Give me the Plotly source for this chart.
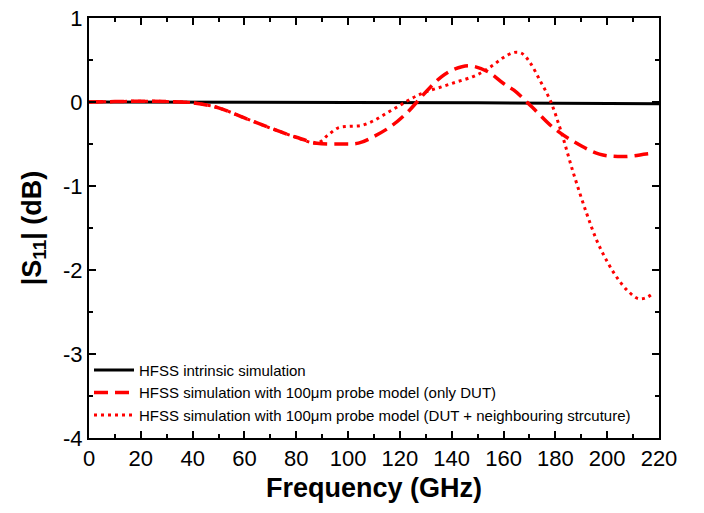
import plotly.graph_objects as go

# 데이터
freq_intrinsic = [0, 50, 100, 150, 200, 220]
s11_intrinsic = [0, 0, -0.005, -0.01, -0.015, -0.02]

freq_dut = [0, 10, 20, 30, 40, 50, 60, 70, 80, 88, 97, 104, 110, 117, 123, 130,
            136, 141, 147, 154, 160, 164, 171, 179, 187, 197, 206, 215, 218]
s11_dut = [0, 0.005, 0.01, 0.005, -0.01, -0.07, -0.19, -0.31, -0.42, -0.49, -0.5,
           -0.49, -0.41, -0.28, -0.12, 0.12, 0.3, 0.39, 0.43, 0.36, 0.22, 0.14,
           -0.06, -0.3, -0.47, -0.62, -0.65, -0.62, -0.61]

freq_nb = [0, 10, 20, 30, 40, 50, 60, 70, 80, 88, 92, 96, 100, 105, 110, 115, 120,
           125, 130, 136, 142, 148, 152, 156, 160, 164, 167, 170, 174, 178, 182,
           187, 192, 196, 200, 204, 208, 212, 215, 218]
s11_nb = [0, 0.005, 0.01, 0.005, -0.01, -0.07, -0.19, -0.31, -0.42, -0.49, -0.4,
          -0.31, -0.29, -0.28, -0.22, -0.13, -0.04, 0.05, 0.12, 0.18, 0.24, 0.3,
          0.36, 0.44, 0.53, 0.59, 0.58, 0.48, 0.26, 0.02, -0.33, -0.85, -1.32,
          -1.65, -1.9, -2.1, -2.25, -2.34, -2.33, -2.27]

x_ticks = list(range(0, 221, 20))
y_ticks = [1, 0, -1, -2, -3, -4]
y_labels = ['1', '0', '-1', '-2', '-3', '-4']

FONT = 'Liberation Sans, Arial'

fig = go.Figure()
fig.add_trace(go.Scatter(x=freq_intrinsic, y=s11_intrinsic, mode='lines',
                         name='HFSS intrinsic simulation',
                         line=dict(color='black', width=3)))
fig.add_trace(go.Scatter(x=freq_dut, y=s11_dut, mode='lines', line_shape='spline',
                         name='HFSS simulation with 100μm probe model (only DUT)',
                         line=dict(color='red', width=3.5, dash='14px,7px')))
fig.add_trace(go.Scatter(x=freq_nb, y=s11_nb, mode='lines', line_shape='spline',
                         name='HFSS simulation with 100μm probe model (DUT + neighbouring strcuture)',
                         line=dict(color='red', width=3, dash='3px,4px')))

axis_style = dict(showline=True, linecolor='black', linewidth=2, mirror='allticks',
                  ticks='inside', ticklen=7, tickwidth=2, tickcolor='black',
                  showgrid=False, zeroline=False, automargin=False,
                  ticklabeloverflow='allow',
                  tickfont=dict(family=FONT, size=22, color='black'))

fig.update_xaxes(range=[0, 220], tickvals=x_ticks,
                 minor=dict(dtick=10, ticks='inside', ticklen=4, tickwidth=2, tickcolor='black'),
                 title=dict(text='<b>Frequency (GHz)</b>', standoff=8,
                            font=dict(family=FONT, size=27, color='black')),
                 **axis_style)
fig.update_yaxes(range=[-4, 1], tickvals=y_ticks, ticktext=y_labels,
                 minor=dict(dtick=0.5, ticks='inside', ticklen=4, tickwidth=2, tickcolor='black'),
                 title=dict(text='<b>|S<sub>11</sub>| (dB)</b>', standoff=14,
                            font=dict(family=FONT, size=27, color='black')),
                 **axis_style)

# 페이지 기본 여백(8px)을 감안한 크기
fig.update_layout(width=688, height=497,
                  margin=dict(l=81, r=37, t=10, b=67),
                  plot_bgcolor='white', paper_bgcolor='white',
                  showlegend=True,
                  legend=dict(x=0.0, y=0.015, xanchor='left', yanchor='bottom',
                              bgcolor='rgba(0,0,0,0)', tracegroupgap=0,
                              itemwidth=40,
                              font=dict(family=FONT, size=15, color='black')))

fig.write_html("out.html")
